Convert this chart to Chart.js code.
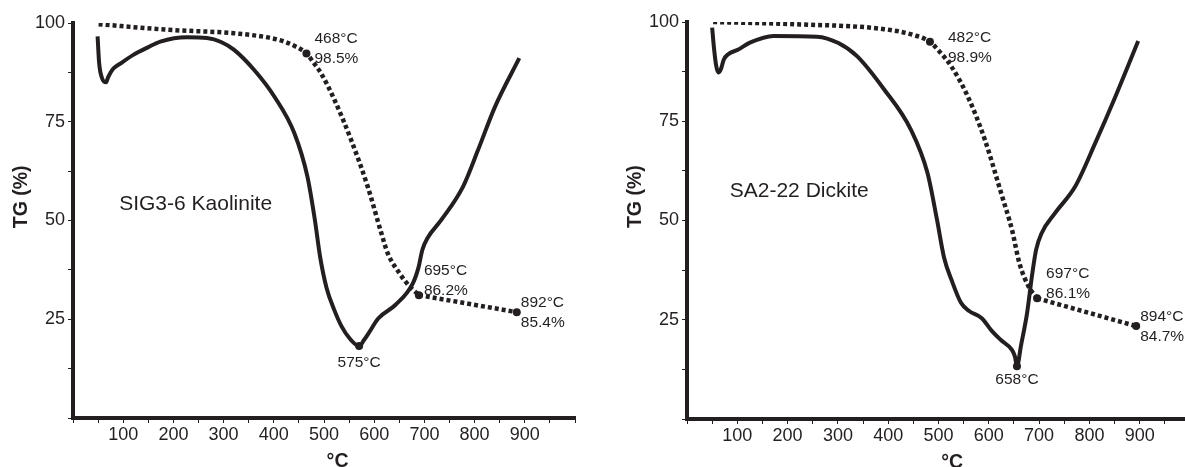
<!DOCTYPE html>
<html>
<head>
<meta charset="utf-8">
<script src="https://cdn.jsdelivr.net/npm/chart.js@4.4.1/dist/chart.umd.min.js"></script>
<style>
html, body { margin: 0; padding: 0; background: #fff; overflow: hidden; width: 1185px; height: 467px; }
.box { position: absolute; top: 0; width: 600px; height: 480px; }
#boxL { left: 0; }
#boxR { left: 600px; }
</style>
</head>
<body>
<div class="box" id="boxL"><canvas id="chartL" width="600" height="480"></canvas></div>
<div class="box" id="boxR"><canvas id="chartR" width="600" height="480"></canvas></div>
<script>
// ---- data ----
// SIG3-6 Kaolinite
var kaoSolidT  = [49, 52, 58, 66, 70, 80, 94, 121, 150, 174, 227, 267, 295, 321, 361, 401, 441, 467, 482, 492, 505, 520, 535, 552, 570, 580, 589, 608, 642, 677, 688, 696, 706, 734, 777, 807, 841, 889];
var kaoSolidTG = [96.6, 90, 86, 85, 86.3, 88.4, 89.7, 92, 93.9, 95.3, 96.4, 96.2, 95.2, 93.2, 88.1, 81.4, 72.1, 61.1, 50, 41, 33, 27.5, 23.2, 20, 18.2, 19.8, 21.5, 25.2, 28.6, 34.1, 38, 42.6, 45.5, 50.2, 58.6, 67.9, 78.9, 91.1];
var kaoDashT   = [51, 187, 321, 394, 421, 444, 465, 479, 494, 521, 554, 587, 614, 627, 650, 669, 689, 884];
var kaoDashTG  = [99.7, 98.3, 97.4, 96.2, 95.3, 94, 92.3, 90, 87.3, 80.5, 70.4, 58.6, 46.9, 41.7, 36.7, 33.5, 31.1, 26.8];
var kaoMarkT   = [465, 689, 884, 570];
var kaoMarkTG  = [92.3, 31.1, 26.8, 18.2];
var kaoMarkLabels = [['468°C', '98.5%'], ['695°C', '86.2%'], ['892°C', '85.4%'], ['575°C']];
var kaoName = 'SIG3-6 Kaolinite';

// SA2-22 Dickite
var dicSolidT  = [50, 54, 58, 62, 67, 73, 82, 101, 125, 172, 258, 301, 338, 392, 445, 478, 497, 511, 526, 545, 561, 586, 606, 624, 646, 652, 656, 664, 676, 686, 694, 705, 732, 772, 812, 852, 897];
var dicSolidTG = [98.6, 93, 89, 87.3, 88, 90.5, 91.9, 93, 94.8, 96.5, 96.3, 94.7, 91.4, 83, 72.9, 62, 50.2, 40.7, 35, 29.2, 27.2, 25.4, 22.2, 19.9, 17.4, 15.7, 13.3, 18.5, 26.6, 36.2, 42.6, 46.8, 51.9, 58.6, 69.6, 81.3, 95.2];
var dicDashT   = [52, 225, 392, 451, 483, 501, 525, 558, 592, 625, 646, 661, 679, 696, 893];
var dicDashTG  = [100, 99.4, 98.2, 96.7, 95, 92.7, 88.9, 81.3, 70.4, 56.7, 47.7, 39.2, 33.4, 30.4, 23.4];
var dicMarkT   = [483, 696, 893, 656];
var dicMarkTG  = [95, 30.4, 23.4, 13.3];
var dicMarkLabels = [['482°C', '98.9%'], ['697°C', '86.1%'], ['894°C', '84.7%'], ['658°C']];
var dicName = 'SA2-22 Dickite';

// axes
var xTickLabels = [100, 200, 300, 400, 500, 600, 700, 800, 900];
var yTickLabels = [25, 50, 75, 100];
var xTitle = '°C';
var yTitle = 'TG (%)';

// ---- drawing ----
var ink = '#231f20';
var sans = "'Liberation Sans', Arial, sans-serif";

function pairs(xs, ys) {
    return xs.map(function(v, i) { return {x: v, y: ys[i]}; });
}

function textPlugin(s) {
    return {
        id: 'textPlugin',
        afterDraw: function(chart) {
            var ctx = chart.ctx, area = chart.chartArea;
            var x = chart.scales.x, y = chart.scales.y;
            ctx.save();
            ctx.fillStyle = ink;
            // annotations next to the markers
            ctx.font = '15.5px ' + sans;
            ctx.textBaseline = 'middle';
            s.markT.forEach(function(t, i) {
                var px = x.getPixelForValue(t), py = y.getPixelForValue(s.markTG[i]);
                var off = s.offsets[i];
                ctx.textAlign = off[2] || 'left';
                s.labels[i].forEach(function(line, k) {
                    ctx.fillText(line, px + off[0], py + off[1] + k * 20);
                });
            });
            // sample name
            ctx.font = '21px ' + sans;
            ctx.textAlign = 'left';
            ctx.fillText(s.name, x.getPixelForValue(s.nameAt[0]), y.getPixelForValue(s.nameAt[1]));
            // axis titles
            ctx.font = 'bold 19.5px ' + sans;
            ctx.textAlign = 'center';
            ctx.textBaseline = 'alphabetic';
            ctx.fillText(xTitle, x.getPixelForValue(527), area.bottom + 49);
            ctx.save();
            ctx.translate(area.left - 46, y.getPixelForValue(56));
            ctx.rotate(-Math.PI / 2);
            ctx.fillText(yTitle, 0, 0);
            ctx.restore();
            ctx.restore();
        }
    };
}

function makeChart(id, s) {
    var ctx = document.getElementById(id).getContext('2d');
    // the dotted curve bends down to the 2nd marker, then runs straight to the last one
    var cut = s.dashT.indexOf(s.markT[1]);
    var dashStyle = { borderColor: ink, borderWidth: 4.5, borderDash: [4, 3], pointRadius: 0, fill: false };
    return new Chart(ctx, {
        type: 'line',
        data: {
            datasets: [
                {
                    type: 'scatter',
                    data: pairs(s.markT, s.markTG),
                    showLine: false,
                    pointRadius: 4,
                    pointBackgroundColor: ink,
                    pointBorderWidth: 0
                },
                {
                    data: pairs(s.solidT, s.solidTG),
                    borderColor: ink,
                    borderWidth: 4,
                    pointRadius: 0,
                    cubicInterpolationMode: 'monotone',
                    fill: false
                },
                Object.assign({
                    data: pairs(s.dashT.slice(0, cut + 1), s.dashTG.slice(0, cut + 1)),
                    cubicInterpolationMode: 'monotone'
                }, dashStyle),
                Object.assign({
                    data: pairs(s.dashT.slice(cut), s.dashTG.slice(cut)),
                    tension: 0
                }, dashStyle)
            ]
        },
        options: {
            responsive: false,
            animation: false,
            devicePixelRatio: 1,
            layout: { padding: s.padding },
            plugins: { legend: { display: false }, tooltip: { enabled: false } },
            scales: {
                x: {
                    type: 'linear', min: 0, max: 1000,
                    afterFit: function(sc) { sc.height = s.xHeight; },
                    ticks: {
                        stepSize: 50, autoSkip: false, maxRotation: 0, minRotation: 0,
                        padding: 1, color: ink, font: { family: sans, size: 18 },
                        callback: function(v) { return xTickLabels.indexOf(v) >= 0 ? String(v) : ''; }
                    },
                    grid: { drawOnChartArea: false, drawTicks: true, tickLength: 5, color: ink, lineWidth: 1 },
                    border: { display: true, color: ink, width: 4 }
                },
                y: {
                    type: 'linear', min: 0, max: 100,
                    afterFit: function(sc) { sc.width = s.yWidth; },
                    ticks: {
                        stepSize: 12.5, autoSkip: false,
                        padding: 3, color: ink, font: { family: sans, size: 18 },
                        callback: function(v) { return yTickLabels.indexOf(v) >= 0 ? String(v) : ''; }
                    },
                    grid: { drawOnChartArea: false, drawTicks: true, tickLength: 5, color: ink, lineWidth: 1 },
                    border: { display: true, color: ink, width: 4 }
                }
            }
        },
        plugins: [textPlugin(s)]
    });
}

makeChart('chartL', {
    solidT: kaoSolidT, solidTG: kaoSolidTG, dashT: kaoDashT, dashTG: kaoDashTG,
    markT: kaoMarkT, markTG: kaoMarkTG, labels: kaoMarkLabels, name: kaoName,
    offsets: [[8, -15], [5, -24], [4, -9], [0, 17, 'center']],
    nameAt: [92, 54],
    padding: { top: 23, right: 25, bottom: 0, left: 0 },
    yWidth: 73, xHeight: 62
});

makeChart('chartR', {
    solidT: dicSolidT, solidTG: dicSolidTG, dashT: dicDashT, dashTG: dicDashTG,
    markT: dicMarkT, markTG: dicMarkTG, labels: dicMarkLabels, name: dicName,
    offsets: [[18, -4], [9, -25], [4, -9], [0, 14, 'center']],
    nameAt: [85, 57.5],
    padding: { top: 22, right: 10, bottom: 0, left: 0 },
    yWidth: 87, xHeight: 61
});
</script>
</body>
</html>
